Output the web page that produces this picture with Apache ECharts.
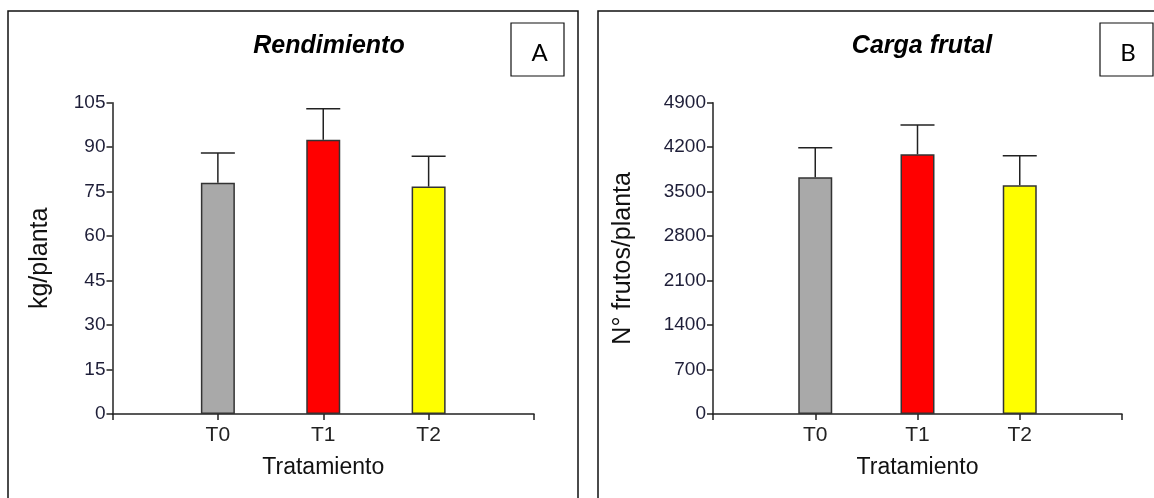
<!DOCTYPE html>
<html>
<head>
<meta charset="utf-8">
<script src="https://cdn.jsdelivr.net/npm/echarts@6/dist/echarts.min.js"></script>
<style>
    html, body {margin: 0; padding: 0; background: #fff;}
    #chart {width: 1154px; height: 498px;}
</style>
</head>
<body>
<div id="chart"></div>
<script>
// treatments and the colour of each bar
const categories = ['T0', 'T1', 'T2'];
const barColors = ['#a9a9a9', '#ff0000', '#ffff00'];

// A - Rendimiento (kg/planta)
const yieldMean = [78, 92.5, 76.7];
const yieldErr = [10, 10.5, 10.2];
const yieldTicks = {min: 0, max: 105, interval: 15};

// B - Carga frutal (N° frutos/planta)
const fruitMean = [3726, 4087, 3600];
const fruitErr = [466, 462, 466];
const fruitTicks = {min: 0, max: 4900, interval: 700};

const font = '"Liberation Sans", Arial, sans-serif';
const barWidth = 34;

// blank slot each side so the axis runs past the outer bars
const axisCats = [''].concat(categories, ['']);

function barData(values) {
    return ['-'].concat(values.map((v, i) => ({
        value: v,
        itemStyle: {color: barColors[i]}
    })), ['-']);
}

function errData(means, errs) {
    return means.map((m, i) => [i + 1, m, errs[i]]);
}

function renderErr(params, api) {
    const x = api.value(0);
    const m = api.value(1);
    const top = api.coord([x, m + api.value(2)]);
    const base = api.coord([x, m]);
    const half = barWidth / 2;
    return {
        type: 'group',
        children: [
            {type: 'line', shape: {x1: base[0], y1: base[1], x2: top[0], y2: top[1]},
                style: {stroke: '#222', lineWidth: 1.5}},
            {type: 'line', shape: {x1: top[0] - half, y1: top[1], x2: top[0] + half, y2: top[1]},
                style: {stroke: '#222', lineWidth: 1.5}}
        ]
    };
}

function xAxis(gridIndex) {
    return {
        type: 'category',
        gridIndex: gridIndex,
        data: axisCats,
        boundaryGap: false,
        name: 'Tratamiento',
        nameLocation: 'middle',
        nameGap: 42.5,
        nameTextStyle: {fontFamily: font, fontSize: 23, color: '#111'},
        axisLine: {lineStyle: {color: '#222', width: 1.5}},
        axisTick: {show: true, length: 6, inside: false, lineStyle: {color: '#222', width: 1.5}},
        axisLabel: {interval: 0, fontFamily: font, fontSize: 21, color: '#222', margin: 11},
        splitLine: {show: false}
    };
}

function yAxis(gridIndex, ticks, name, gap) {
    return {
        type: 'value',
        gridIndex: gridIndex,
        min: ticks.min,
        max: ticks.max,
        interval: ticks.interval,
        name: name,
        nameLocation: 'middle',
        nameGap: gap,
        nameTextStyle: {fontFamily: font, fontSize: 25, color: '#111'},
        axisLine: {show: true, lineStyle: {color: '#222', width: 1.5}},
        axisTick: {show: true, length: 6, lineStyle: {color: '#222', width: 1.5}},
        axisLabel: {fontFamily: font, fontSize: 19, color: '#1e1e38', margin: 7,
            formatter: v => String(v)},
        splitLine: {show: false}
    };
}

const chart = echarts.init(document.getElementById('chart'), null, {renderer: 'canvas'});

chart.setOption({
    animation: false,
    backgroundColor: '#fff',
    title: [
        {text: 'Rendimiento', left: 324, top: 29, textAlign: 'center',
            textStyle: {fontFamily: font, fontSize: 25, fontStyle: 'italic', fontWeight: 'bold', color: '#000'}},
        {text: 'Carga frutal', left: 917, top: 29, textAlign: 'center',
            textStyle: {fontFamily: font, fontSize: 25, fontStyle: 'italic', fontWeight: 'bold', color: '#000'}}
    ],
    grid: [
        {left: 112.5, right: 620, top: 102.7, bottom: 84},
        {left: 713, right: 32, top: 102.7, bottom: 84}
    ],
    xAxis: [xAxis(0), xAxis(1)],
    yAxis: [
        yAxis(0, yieldTicks, 'kg/planta', 60),
        yAxis(1, fruitTicks, 'N° frutos/planta', 77)
    ],
    series: [
        {type: 'bar', xAxisIndex: 0, yAxisIndex: 0, barWidth: barWidth, data: barData(yieldMean),
            itemStyle: {borderColor: '#333', borderWidth: 1.5}},
        {type: 'custom', xAxisIndex: 0, yAxisIndex: 0, z: 3, renderItem: renderErr,
            data: errData(yieldMean, yieldErr)},
        {type: 'bar', xAxisIndex: 1, yAxisIndex: 1, barWidth: barWidth, data: barData(fruitMean),
            itemStyle: {borderColor: '#333', borderWidth: 1.5}},
        {type: 'custom', xAxisIndex: 1, yAxisIndex: 1, z: 3, renderItem: renderErr,
            data: errData(fruitMean, fruitErr)}
    ],
    graphic: [
        // panel frames
        {type: 'rect', shape: {x: 8, y: 11, width: 570, height: 500},
            style: {fill: 'none', stroke: '#111', lineWidth: 1.5}, silent: true},
        {type: 'rect', shape: {x: 598, y: 11, width: 570, height: 500},
            style: {fill: 'none', stroke: '#111', lineWidth: 1.5}, silent: true},
        // panel letters
        {type: 'rect', shape: {x: 511, y: 23, width: 53, height: 53},
            style: {fill: '#fff', stroke: '#111', lineWidth: 1.2}},
        {type: 'text', x: 539.5, y: 53, style: {text: 'A', font: '24px Lato, "Open Sans", sans-serif',
            fill: '#000', align: 'center', verticalAlign: 'middle'}},
        {type: 'rect', shape: {x: 1100, y: 23, width: 53, height: 53},
            style: {fill: '#fff', stroke: '#111', lineWidth: 1.2}},
        {type: 'text', x: 1128, y: 53, style: {text: 'B', font: '24px Lato, "Open Sans", sans-serif',
            fill: '#000', align: 'center', verticalAlign: 'middle'}}
    ]
});
</script>
</body>
</html>
